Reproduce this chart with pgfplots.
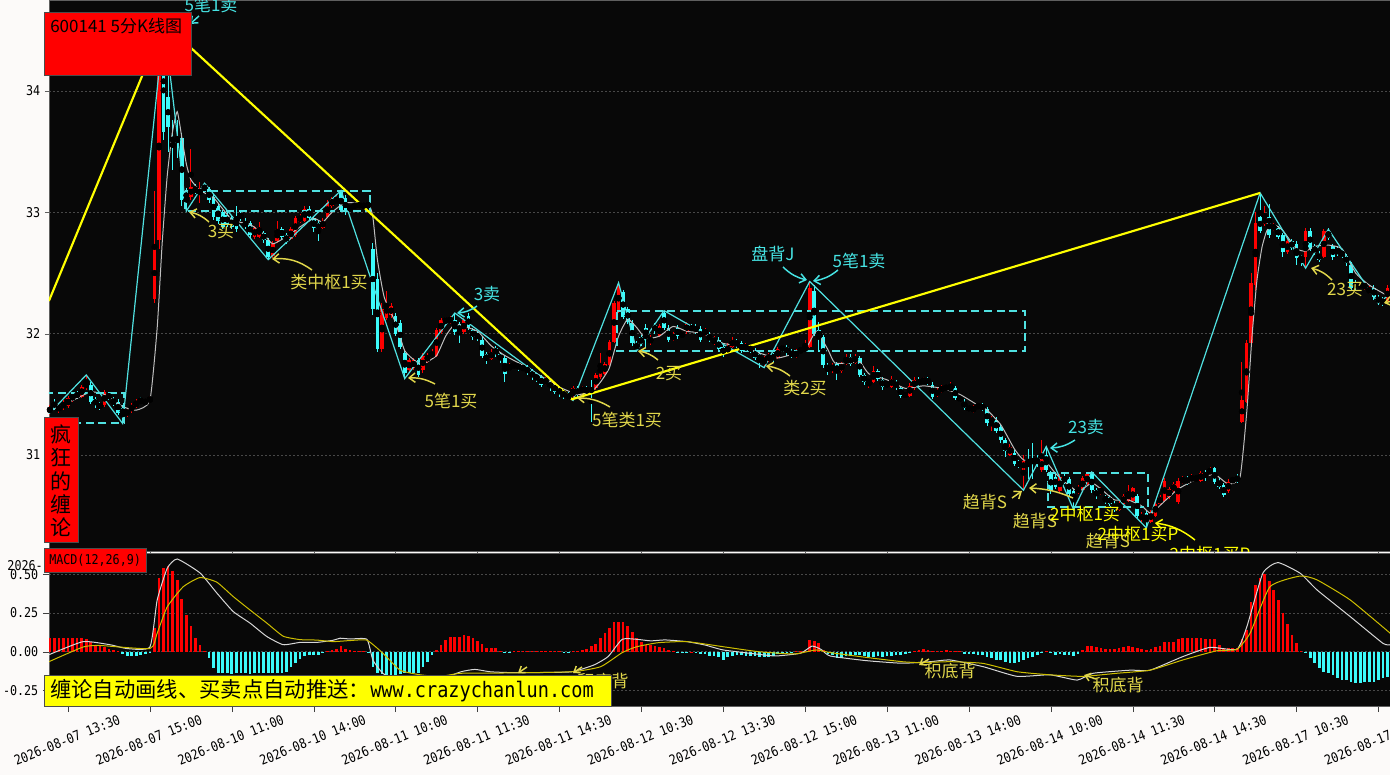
\documentclass[border=0pt]{standalone}
\usepackage{pgfplots}
\pgfplotsset{compat=1.18}
\usepackage{pgfplotstable}
\usepackage{fontspec}
\usetikzlibrary{arrows.meta}
\newfontfamily\cjk{Noto Sans CJK SC}
\newfontfamily\mono[FakeStretch=0.87]{DejaVu Sans Mono}
\definecolor{pagebg}{RGB}{252,250,249}
\definecolor{panelbg}{RGB}{8,8,8}
\definecolor{kred}{RGB}{255,0,0}
\definecolor{kcyan}{RGB}{60,250,250}
\definecolor{zig}{RGB}{80,225,225}
\definecolor{yline}{RGB}{255,255,0}
\definecolor{ylab}{RGB}{225,215,75}
\definecolor{clab}{RGB}{70,228,228}
\definecolor{ma}{RGB}{190,190,190}
\definecolor{dif}{RGB}{215,215,215}
\definecolor{dea}{RGB}{205,190,0}
\definecolor{gridc}{RGB}{72,72,72}
\definecolor{framec}{RGB}{95,95,95}
\newcommand\labfont{\cjk\fontsize{12.75}{14}\selectfont}
\newcommand\tickfont{\mono\fontsize{10.1}{12}\selectfont}
\pgfplotstableread{
x o h l c m
0 31.36 31.41 31.33 31.39 0.09
1 31.44 31.46 31.37 31.39 0.09
2 31.37 31.42 31.35 31.40 0.088
3 31.39 31.45 31.37 31.43 0.09
4 31.40 31.49 31.39 31.47 0.09
5 31.46 31.51 31.44 31.49 0.088
6 31.51 31.53 31.46 31.48 0.09
7 31.48 31.58 31.47 31.56 0.09
8 31.55 31.66 31.54 31.60 0.085
9 31.58 31.60 31.42 31.44 0.065
10 31.46 31.48 31.39 31.41 0.045
11 31.42 31.44 31.37 31.39 0.035
12 31.41 31.54 31.40 31.52 0.03
13 31.50 31.52 31.45 31.47 0.02
14 31.46 31.48 31.40 31.42 0.01
15 31.44 31.46 31.33 31.35 0.003
16 31.39 31.41 31.26 31.33 -0.015
17 31.33 31.39 31.31 31.37 -0.025
18 31.36 31.43 31.35 31.41 -0.03
19 31.40 31.46 31.39 31.44 -0.025
20 31.46 31.48 31.42 31.43 -0.02
21 31.45 31.46 31.41 31.43 -0.015
22 31.44 31.49 31.43 31.47 -0.01
23 32.29 33.18 32.25 32.71 0.155
24 32.77 34.40 32.70 34.30 0.48
25 34.35 34.56 33.60 33.66 0.545
26 33.95 34.15 33.50 33.70 0.555
27 33.62 33.76 33.35 33.58 0.52
28 33.62 33.76 33.45 33.57 0.465
29 33.61 33.65 33.05 33.10 0.34
30 33.18 33.20 33.01 33.10 0.24
31 33.13 33.52 33.10 33.21 0.165
32 33.20 33.23 33.15 33.17 0.09
33 33.14 33.25 33.08 33.20 0.045
34 33.22 33.24 33.16 33.19 0.005
35 33.19 33.21 33.08 33.10 -0.04
36 33.13 33.15 32.94 32.96 -0.105
37 33.05 33.07 32.90 32.93 -0.135
38 33.00 33.02 32.86 32.88 -0.14
39 32.98 33.00 32.88 32.90 -0.14
40 32.95 32.97 32.86 32.88 -0.142
41 32.96 33.05 32.84 32.86 -0.14
42 32.99 33.01 32.93 32.95 -0.138
43 32.93 32.95 32.86 32.88 -0.14
44 32.91 32.93 32.79 32.81 -0.142
45 32.80 32.89 32.78 32.87 -0.14
46 32.80 32.92 32.79 32.88 -0.14
47 32.83 32.85 32.75 32.77 -0.138
48 32.77 32.79 32.61 32.63 -0.14
49 32.64 32.76 32.62 32.74 -0.14
50 32.76 32.93 32.75 32.86 -0.138
51 32.86 32.88 32.78 32.80 -0.135
52 32.81 32.83 32.74 32.76 -0.13
53 32.78 32.88 32.77 32.86 -0.1
54 32.81 32.97 32.80 32.95 -0.075
55 32.92 32.99 32.91 32.97 -0.045
56 32.93 33.05 32.92 33.03 -0.025
57 33.03 33.05 32.93 32.95 -0.02
58 32.95 32.97 32.84 32.87 -0.02
59 32.91 32.93 32.76 32.86 -0.02
60 32.87 32.95 32.86 32.93 -0.01
61 32.96 33.10 32.95 33.08 0.005
62 33.05 33.13 33.04 33.11 0.012
63 33.08 33.14 33.07 33.11 0.02
64 33.17 33.18 33.00 33.02 0.035
65 33.12 33.14 32.98 33.00 0.02
66 33.02 33.06 33.01 33.04 0.012
67 33.04 33.08 33.03 33.07 0.006
68 33.07 33.08 33.04 33.05 0.004
69 33.05 33.07 33.04 33.06 0.002
70 33.07 33.08 33.04 33.05 -0.01
71 32.70 32.75 32.15 32.20 -0.1
72 32.45 32.50 31.85 31.87 -0.14
73 31.87 32.25 31.85 32.20 -0.145
74 32.13 32.35 32.11 32.25 -0.15
75 32.15 32.25 32.13 32.23 -0.15
76 32.15 32.17 31.98 32.00 -0.15
77 32.09 32.11 31.87 31.89 -0.145
78 31.84 31.86 31.63 31.68 -0.14
79 31.70 31.80 31.68 31.78 -0.14
80 31.72 31.80 31.70 31.78 -0.14
81 31.78 31.80 31.64 31.66 -0.14
82 31.70 31.84 31.68 31.82 -0.1
83 31.77 31.84 31.76 31.82 -0.065
84 31.80 31.87 31.79 31.85 -0.02
85 31.82 32.05 31.81 32.03 0.01
86 32.01 32.13 32.00 32.11 0.043
87 32.09 32.14 32.08 32.12 0.076
88 32.09 32.15 32.08 32.13 0.093
89 32.11 32.17 31.99 32.01 0.093
90 32.08 32.10 31.92 32.01 0.093
91 32.01 32.13 32.00 32.11 0.108
92 32.15 32.17 32.03 32.05 0.1
93 32.03 32.05 31.95 31.97 0.087
94 32.00 32.02 31.94 31.96 0.072
95 31.95 31.97 31.80 31.82 0.048
96 31.83 31.85 31.75 31.78 0.026
97 31.79 31.87 31.78 31.85 0.026
98 31.88 31.90 31.81 31.83 0.026
99 31.83 31.85 31.76 31.78 0.004
100 31.80 31.82 31.60 31.67 -0.005
101 31.70 31.76 31.69 31.74 -0.002
102 31.72 31.77 31.71 31.75 0.003
103 31.75 31.77 31.69 31.71 0.005
104 31.70 31.75 31.69 31.73 0.005
105 31.72 31.74 31.66 31.68 0.006
106 31.69 31.71 31.62 31.64 0.005
107 31.66 31.68 31.60 31.62 0.005
108 31.64 31.66 31.56 31.58 0.006
109 31.59 31.64 31.58 31.62 0.005
110 31.60 31.62 31.53 31.55 0.005
111 31.58 31.60 31.50 31.52 0.003
112 31.55 31.57 31.48 31.50 0.002
113 31.52 31.54 31.46 31.48 -0.003
114 31.50 31.52 31.45 31.46 -0.004
115 31.50 31.57 31.45 31.55 0.003
116 31.55 31.57 31.48 31.50 0.006
117 31.52 31.57 31.51 31.55 0.011
118 31.55 31.57 31.50 31.51 0.02
119 31.55 31.62 31.27 31.52 0.035
120 31.55 31.68 31.54 31.66 0.05
121 31.64 31.84 31.63 31.75 0.087
122 31.67 31.77 31.66 31.75 0.12
123 31.74 31.95 31.73 31.93 0.152
124 31.93 32.27 31.92 32.25 0.19
125 32.18 32.42 32.17 32.40 0.195
126 32.34 32.36 32.12 32.14 0.19
127 32.20 32.22 32.08 32.10 0.165
128 32.09 32.11 31.90 31.92 0.13
129 31.92 31.94 31.86 31.87 0.087
130 31.97 31.99 31.90 31.92 0.065
131 32.05 32.08 31.88 31.97 0.043
132 31.92 31.99 31.91 31.97 0.043
133 32.07 32.09 32.00 32.02 0.035
134 31.98 32.08 31.97 32.06 0.03
135 32.17 32.19 32.03 32.05 0.025
136 32.05 32.07 31.93 31.95 0.011
137 31.95 32.01 31.94 31.99 0.005
138 32.05 32.07 31.96 31.98 -0.004
139 31.98 32.02 31.97 32.00 -0.005
140 32.02 32.10 32.00 32.08 -0.002
141 32.06 32.08 32.01 32.03 0.001
142 32.06 32.08 32.00 32.02 -0.005
143 32.04 32.06 31.93 31.95 -0.015
144 31.99 32.05 31.98 32.03 -0.015
145 31.99 32.01 31.93 31.95 -0.028
146 31.92 31.98 31.91 31.96 -0.03
147 31.95 31.97 31.85 31.87 -0.035
148 31.89 31.91 31.81 31.83 -0.054
149 31.84 31.92 31.83 31.90 -0.037
150 31.89 31.97 31.88 31.95 -0.028
151 31.94 31.96 31.88 31.90 -0.022
152 31.92 31.94 31.84 31.86 -0.022
153 31.87 31.92 31.86 31.90 -0.028
154 31.89 31.91 31.84 31.86 -0.028
155 31.86 31.88 31.78 31.80 -0.03
156 31.83 31.85 31.72 31.78 -0.035
157 31.76 31.82 31.72 31.80 -0.037
158 31.78 31.84 31.77 31.82 -0.037
159 31.82 31.84 31.77 31.79 -0.028
160 31.80 31.89 31.79 31.87 -0.015
161 31.86 31.91 31.85 31.89 -0.01
162 31.89 31.91 31.82 31.84 -0.008
163 31.85 31.87 31.80 31.82 -0.004
164 31.81 31.87 31.80 31.85 0.002
165 31.85 31.89 31.84 31.87 0.003
166 31.86 31.95 31.85 31.89 0.005
167 31.89 32.43 31.88 32.38 0.076
168 32.35 32.40 31.98 32.00 0.07
169 32.03 32.10 31.85 31.97 0.054
170 31.97 31.99 31.72 31.74 0.011
171 31.74 31.76 31.66 31.70 -0.015
172 31.69 31.76 31.68 31.74 -0.022
173 31.75 31.77 31.62 31.68 -0.043
174 31.69 31.77 31.68 31.75 -0.043
175 31.75 31.83 31.74 31.80 -0.028
176 31.81 31.83 31.73 31.75 -0.028
177 31.76 31.83 31.75 31.81 -0.022
178 31.80 31.82 31.64 31.66 -0.022
179 31.66 31.68 31.58 31.60 -0.028
180 31.60 31.63 31.55 31.61 -0.037
181 31.60 31.73 31.59 31.69 -0.033
182 31.69 31.71 31.61 31.63 -0.028
183 31.62 31.64 31.54 31.56 -0.033
184 31.57 31.61 31.56 31.59 -0.028
185 31.56 31.65 31.55 31.63 -0.028
186 31.60 31.62 31.54 31.56 -0.022
187 31.55 31.57 31.47 31.49 -0.022
188 31.50 31.52 31.47 31.49 -0.015
189 31.49 31.59 31.48 31.57 -0.005
190 31.55 31.64 31.54 31.62 0.005
191 31.62 31.64 31.56 31.58 0.008
192 31.60 31.64 31.59 31.62 0.015
193 31.62 31.64 31.58 31.60 0.008
194 31.58 31.60 31.46 31.48 0.006
195 31.49 31.55 31.48 31.53 0.005
196 31.52 31.58 31.51 31.56 0.006
197 31.56 31.58 31.53 31.55 0.008
198 31.54 31.60 31.53 31.56 0.007
199 31.55 31.57 31.45 31.47 0.005
200 31.47 31.49 31.44 31.46 0.003
201 31.44 31.46 31.37 31.39 -0.015
202 31.39 31.41 31.36 31.38 -0.015
203 31.36 31.41 31.35 31.39 -0.015
204 31.39 31.43 31.38 31.41 -0.022
205 31.41 31.43 31.36 31.38 -0.022
206 31.38 31.40 31.24 31.26 -0.032
207 31.27 31.32 31.20 31.30 -0.043
208 31.29 31.31 31.18 31.20 -0.054
209 31.23 31.25 31.10 31.12 -0.054
210 31.12 31.14 30.98 31.03 -0.065
211 31.00 31.09 30.99 31.07 -0.071
212 31.02 31.04 30.91 30.93 -0.076
213 30.94 30.96 30.89 30.91 -0.065
214 30.88 31.00 30.71 30.95 -0.054
215 30.96 31.05 30.80 30.93 -0.043
216 30.96 31.10 30.80 30.94 -0.032
217 30.97 31.00 30.90 30.94 -0.022
218 30.88 31.12 30.86 30.97 -0.003
219 31.00 31.07 30.86 30.88 0.002
220 30.85 30.87 30.68 30.70 -0.003
221 30.82 30.84 30.72 30.74 -0.022
222 30.70 30.84 30.69 30.82 -0.015
223 30.82 30.84 30.76 30.78 -0.022
224 30.80 30.82 30.66 30.68 -0.022
225 30.70 30.72 30.55 30.62 -0.028
226 30.69 30.75 30.68 30.73 -0.015
227 30.71 30.83 30.70 30.81 0.011
228 30.76 30.86 30.75 30.84 0.037
229 30.85 30.86 30.69 30.71 0.037
230 30.71 30.73 30.64 30.66 0.028
231 30.68 30.74 30.67 30.72 0.022
232 30.65 30.67 30.60 30.62 0.015
233 30.65 30.67 30.58 30.60 0.015
234 30.60 30.62 30.53 30.55 0.015
235 30.55 30.62 30.54 30.60 0.022
236 30.60 30.68 30.59 30.66 0.028
237 30.62 30.75 30.61 30.70 0.037
238 30.62 30.74 30.61 30.73 0.028
239 30.66 30.68 30.48 30.50 0.022
240 30.47 30.53 30.45 30.51 0.015
241 30.52 30.54 30.40 30.45 0.011
242 30.45 30.55 30.44 30.53 0.015
243 30.50 30.62 30.49 30.60 0.028
244 30.60 30.67 30.59 30.65 0.037
245 30.62 30.81 30.61 30.79 0.065
246 30.65 30.74 30.64 30.72 0.065
247 30.70 30.78 30.69 30.76 0.065
248 30.61 30.81 30.60 30.79 0.08
249 30.77 30.83 30.76 30.81 0.087
250 30.81 30.83 30.75 30.77 0.087
251 30.79 30.84 30.78 30.82 0.087
252 30.80 30.83 30.79 30.81 0.087
253 30.79 30.87 30.78 30.85 0.087
254 30.86 30.88 30.79 30.81 0.08
255 30.85 30.90 30.84 30.88 0.08
256 30.89 30.90 30.76 30.78 0.08
257 30.79 30.81 30.72 30.74 0.043
258 30.75 30.77 30.65 30.67 0.022
259 30.70 30.80 30.69 30.78 0.022
260 30.78 30.82 30.77 30.80 0.022
261 30.82 30.84 30.77 30.79 0.022
262 31.27 31.77 31.26 31.45 0.08
263 31.44 31.95 31.43 31.92 0.14
264 31.92 32.50 31.90 32.42 0.32
265 32.40 33.00 32.35 32.91 0.43
266 32.96 33.16 32.83 32.85 0.476
267 32.90 33.05 32.89 32.96 0.5
268 32.96 33.07 32.79 32.81 0.455
269 32.86 32.91 32.85 32.89 0.4
270 32.87 32.89 32.78 32.80 0.335
271 32.81 32.83 32.63 32.67 0.248
272 32.67 32.78 32.66 32.76 0.177
273 32.76 32.78 32.69 32.71 0.106
274 32.74 32.76 32.57 32.62 0.058
275 32.63 32.65 32.56 32.61 0.006
276 32.63 32.87 32.54 32.85 -0.01
277 32.85 32.87 32.68 32.70 -0.043
278 32.72 32.74 32.65 32.67 -0.076
279 32.66 32.68 32.59 32.61 -0.108
280 32.63 32.86 32.62 32.85 -0.13
281 32.84 32.87 32.77 32.79 -0.14
282 32.72 32.74 32.61 32.63 -0.152
283 32.70 32.72 32.64 32.66 -0.173
284 32.68 32.70 32.62 32.64 -0.184
285 32.64 32.66 32.56 32.58 -0.184
286 32.57 32.59 32.36 32.38 -0.195
287 32.42 32.44 32.36 32.38 -0.206
288 32.38 32.43 32.37 32.41 -0.206
289 32.37 32.43 32.36 32.41 -0.195
290 32.34 32.39 32.33 32.37 -0.195
291 32.38 32.40 32.28 32.30 -0.195
292 32.30 32.32 32.24 32.26 -0.184
293 32.28 32.30 32.23 32.25 -0.173
294 32.27 32.40 32.26 32.38 -0.165
}\kdata
\begin{document}
\begin{tikzpicture}
\useasboundingbox (0pt,0pt) rectangle (1042.5pt,-581.25pt);
\fill[pagebg] (0pt,0pt) rectangle (1042.5pt,-581.25pt);
% ---------------- main K-line panel ----------------
\begin{axis}[at={(36.75pt,-413.25pt)}, anchor=south west, scale only axis,
  width=1005.75pt, height=413.25pt,
  xmin=-0.18, xmax=294.55, ymin=30.209, ymax=34.75,
  axis background/.style={fill=panelbg},
  axis line style={framec, line width=0.6pt},
  xtick={4,22,...,292}, xticklabels={}, xtick pos=left,
  ytick={31,32,33,34}, yticklabels={31,32,33,34}, ytick pos=left,
  tick align=outside, tick style={framec}, major tick length=3pt,
  yticklabel style={font=\tickfont, text=black},
  ymajorgrids, grid style={gridc, dash pattern=on 1.5pt off 1.5pt, line width=0.6pt}]
% wicks
\addplot[only marks, mark=none, error bars/.cd, y dir=both, y explicit, error mark=none,
  error bar style={kred, line width=0.75pt, solid}]
  table[x=x, y expr={(\thisrow{h}+\thisrow{l})/2},
  y error expr={\thisrow{c}>=\thisrow{o} ? (\thisrow{h}-\thisrow{l})/2 : 0}] {\kdata};
\addplot[only marks, mark=none, error bars/.cd, y dir=both, y explicit, error mark=none,
  error bar style={kcyan, line width=0.75pt, solid}]
  table[x=x, y expr={(\thisrow{h}+\thisrow{l})/2},
  y error expr={\thisrow{c}<\thisrow{o} ? (\thisrow{h}-\thisrow{l})/2 : 0}] {\kdata};
% bodies
\addplot[only marks, mark=none, error bars/.cd, y dir=both, y explicit, error mark=none,
  error bar style={kred, line width=2.8pt, solid}]
  table[x=x, y expr={(\thisrow{o}+\thisrow{c})/2},
  y error expr={\thisrow{c}>=\thisrow{o} ? max((\thisrow{c}-\thisrow{o})/2,0.005) : 0}] {\kdata};
\addplot[only marks, mark=none, error bars/.cd, y dir=both, y explicit, error mark=none,
  error bar style={kcyan, line width=2.8pt, solid}]
  table[x=x, y expr={(\thisrow{o}+\thisrow{c})/2},
  y error expr={\thisrow{c}<\thisrow{o} ? max((\thisrow{o}-\thisrow{c})/2,0.005) : 0}] {\kdata};
% moving average
\addplot[ma, line width=0.75pt, smooth, tension=0.3] coordinates {
(-0.2,31.36)(5,31.45)(9,31.52)(12,31.50)(16,31.40)(19,31.37)(22,31.45)(23.6,32.05)(24.7,32.75)(25.8,33.3)(26.9,33.65)(28,33.83)(29,33.62)(30,33.4)(31,33.27)(33,33.18)(36,33.12)(40,32.94)(44,32.9)(47,32.82)(49,32.74)(52,32.8)(55,32.88)(58,32.95)(60,32.92)(62,33.0)(65,33.08)(70,33.06)(71,32.96)(72,32.61)(73.5,32.3)(76,32.09)(78,31.86)(80.5,31.77)(82,31.75)(85,31.82)(87,31.98)(89,32.08)(91,32.06)(94,32.02)(97,31.9)(100,31.82)(104,31.74)(108,31.65)(112,31.56)(116,31.5)(119,31.52)(121,31.6)(123,31.72)(125,31.98)(127,32.12)(129,32.05)(131,31.96)(134,31.98)(137,32.06)(140,32.02)(144,32.0)(148,31.92)(152,31.9)(156,31.84)(160,31.8)(164,31.84)(166,31.87)(167,31.93)(168.5,32.02)(171,31.87)(172.5,31.76)(176,31.76)(178,31.77)(180,31.67)(184,31.62)(188,31.55)(192,31.57)(196,31.55)(200,31.5)(204,31.41)(206,31.37)(209,31.25)(212,31.05)(214,30.96)(217,30.94)(219,30.94)(221,30.85)(223,30.78)(226,30.7)(229,30.77)(231,30.72)(234,30.63)(237,30.63)(240,30.58)(242,30.52)(245,30.62)(248,30.72)(252,30.8)(256,30.84)(259,30.76)(261.6,30.82)(263.1,31.37)(264.2,31.97)(265.3,32.44)(266.4,32.71)(267.5,32.85)(269,32.9)(271,32.85)(274,32.7)(276,32.68)(278,32.72)(281,32.73)(284,32.7)(287,32.5)(290,32.4)(294.6,32.3)};
% central pivot boxes
\addplot[zig, line width=1.5pt, dash pattern=on 6pt off 3.5pt] coordinates {(-1,31.51)(16.3,31.51)(16.3,31.26)(-1,31.26)};
\addplot[zig, line width=1.5pt, dash pattern=on 6pt off 3.5pt] coordinates {(29.7,33.18)(70.4,33.18)(70.4,33.01)(29.7,33.01)(29.7,33.18)};
\addplot[zig, line width=1.5pt, dash pattern=on 6pt off 3.5pt] coordinates {(124.6,32.19)(214.3,32.19)(214.3,31.86)(124.6,31.86)(124.6,32.19)};
\addplot[zig, line width=1.5pt, dash pattern=on 6pt off 3.5pt] coordinates {(219.4,30.855)(241.4,30.855)(241.4,30.57)(219.4,30.57)(219.4,30.855)};
% strokes
\addplot[zig, line width=0.9pt] coordinates {(-0.2,31.34)(8,31.66)(16,31.26)(25.1,34.56)(30,33.01)(34,33.24)(48,32.61)(64,33.18)(78,31.63)(89,32.17)(115,31.45)(125,32.42)(129,31.86)(135,32.19)(157,31.72)(167,32.43)(214,30.71)(219,31.07)(225,30.55)(229,30.86)(241,30.40)(266,33.16)(276,32.54)(281,32.86)(292,32.25)(294.6,32.33)};
% segments
\addplot[yline, line width=1.6pt] coordinates {(-0.2,32.27)(25.1,34.56)(114.8,31.46)(266,33.16)};
\end{axis}
% ---------------- MACD panel ----------------
\begin{axis}[at={(36.75pt,-529.5pt)}, anchor=south west, scale only axis,
  width=1005.75pt, height=114.75pt,
  xmin=-0.18, xmax=294.55, ymin=-0.352, ymax=0.639,
  axis background/.style={fill=panelbg},
  axis line style={framec, line width=0.6pt},
  xtick={4,22,...,292}, xticklabels={}, xtick pos=left, tick align=outside,
  tick style={black!75}, major tick length=4.5pt,
  ytick={-0.25,0,0.25,0.5}, yticklabels={-0.25,0.00,0.25,0.50}, ytick pos=left,
  yticklabel style={font=\tickfont, text=black},
  ymajorgrids, grid style={gridc, dash pattern=on 1.5pt off 1.5pt, line width=0.6pt}]
\addplot[ycomb, kred, line width=2pt] table[x=x, y expr={max(\thisrow{m},0)}] {\kdata};
\addplot[ycomb, kcyan, line width=2pt] table[x=x, y expr={min(\thisrow{m},0)}] {\kdata};
\addplot[dif, line width=0.75pt, smooth, tension=0.3] coordinates {
(-0.2,-0.02)(7.3,0.065)(13.2,0.045)(17,0.02)(22,0.03)(23.6,0.335)(25.8,0.54)(28,0.6)(33,0.51)(36.7,0.38)(40.3,0.26)(44,0.185)(47.7,0.098)(51.3,0.045)(55,0.06)(58.7,0.06)(62.3,0.074)(63.8,0.087)(66,0.082)(69.7,0.08)(71,-0.054)(73.2,-0.14)(77,-0.2)(81.4,-0.22)(85.8,-0.18)(90.4,-0.13)(93.4,-0.115)(96.7,-0.13)(100.5,-0.135)(108.4,-0.135)(114.8,-0.13)(119.6,-0.086)(122.7,-0.032)(125.8,0.08)(129,0.08)(132.1,0.07)(135.2,0.076)(140,0.065)(144,0.043)(148,0.011)(155.7,-0.017)(159.6,-0.028)(165,-0.01)(167.5,0.036)(169.5,0.015)(171.5,-0.028)(179.4,-0.058)(187.3,-0.075)(193.5,-0.065)(197.9,-0.054)(205.1,-0.097)(212.6,-0.16)(219.8,-0.15)(225.8,-0.184)(229.3,-0.14)(237.4,-0.12)(241.8,-0.12)(249,-0.032)(255,0.028)(260.9,0.015)(263.1,0.163)(266.6,0.508)(269.9,0.577)(274.8,0.508)(278.5,0.4)(285.8,0.227)(293,0.054)(294.6,0.045)};
\addplot[dea, line width=0.75pt, smooth, tension=0.3] coordinates {
(-0.2,-0.065)(7.3,0.03)(11,0.04)(22,0.02)(23.6,0.12)(25.8,0.29)(29.3,0.42)(33,0.48)(36.7,0.45)(40.3,0.357)(44,0.27)(47.7,0.185)(51.3,0.1)(55,0.078)(58.7,0.075)(62.3,0.065)(66,0.072)(69.7,0.074)(73.2,-0.01)(77,-0.12)(81.4,-0.15)(85.8,-0.16)(90.4,-0.14)(100.5,-0.138)(114.8,-0.13)(121.1,-0.097)(125.8,-0.006)(129,0.032)(133.7,0.058)(140,0.065)(148,0.032)(155.7,0)(163.6,-0.015)(168.4,0.011)(171.5,-0.006)(179.4,-0.037)(187.3,-0.065)(191.2,-0.071)(197.9,-0.065)(205.1,-0.076)(212.6,-0.13)(219.8,-0.15)(227.1,-0.16)(234.5,-0.14)(241.8,-0.12)(249,-0.054)(256.5,0.006)(260.9,0.015)(263.8,0.12)(268.2,0.422)(274.8,0.49)(278.5,0.465)(285.8,0.335)(294.6,0.119)};
\end{axis}
% ---------------- annotations (pixel coordinates) ----------------
\begin{scope}[x=0.75pt,y=-0.75pt]
\begin{scope}
\clip (49,0) rectangle (1390,551);
\tikzset{al/.style={ylab, line width=1.1pt, -{Straight Barb[length=4.5pt,width=7pt]}},
         ac/.style={clab, line width=1.1pt, -{Straight Barb[length=4.5pt,width=7pt]}}}
\node[clab, font=\labfont] at (211,5) {5笔1卖};
\draw[ac] (199,16) -- (190,24);
\node[ylab, font=\labfont] at (221,232) {3买};
\draw[al] (209,222) to[bend right=15] (189,212);
\node[ylab, font=\labfont] at (329,282) {类中枢1买};
\draw[al] (312,270) to[bend right=20] (272,259);
\node[clab, font=\labfont] at (487,294) {3卖};
\draw[ac] (477,306) to[bend left=15] (457,313);
\node[ylab, font=\labfont] at (451,401) {5笔1买};
\draw[al] (435,384) to[bend right=15] (408,378);
\node[ylab, font=\labfont] at (627,420) {5笔类1买};
\draw[al] (610,407) to[bend right=15] (577,398);
\node[ylab, font=\labfont] at (669,374) {2买};
\draw[al] (658,360) to[bend right=15] (638,351);
\node[clab, font=\labfont] at (773,254) {盘背J};
\draw[ac] (783,267) to[bend right=15] (807,280);
\node[clab, font=\labfont] at (859,261) {5笔1卖};
\draw[ac] (838,270) to[bend left=15] (813,281);
\node[ylab, font=\labfont] at (805,388) {类2买};
\draw[al] (790,376) to[bend right=15] (766,366);
\node[clab, font=\labfont] at (1086,427) {23卖};
\draw[ac] (1075,440) to[bend left=15] (1050,448);
\node[ylab, font=\labfont] at (985,502) {趋背S};
\draw[al] (1012,498) -- (1022,491);
\draw[al] (1073,498) to[bend right=10] (1029,488);
\node[ylab, font=\labfont] at (1035,521) {趋背S};
\node[yline, font=\labfont] at (1085,514) {2中枢1买};
\node[ylab, font=\labfont] at (1108,541) {趋背S};
\node[yline, font=\labfont] at (1138,534) {2中枢1买P};
\draw[al, yline] (1195,540) to[bend right=15] (1155,523);
\node[yline, font=\labfont] at (1210,554) {2中枢1买P};
\node[ylab, font=\labfont] at (1345,290) {23买};
\draw[al] (1332,280) to[bend right=15] (1311,268);
\draw[al] (1400,299) -- (1384,303);
\end{scope}
\begin{scope}
\clip (49,553) rectangle (1390,706);
\tikzset{al/.style={ylab, line width=1.1pt, -{Straight Barb[length=4pt,width=6pt]}}}
\node[ylab, font=\labfont] at (603,681) {积底背};
\draw[al] (527,667) -- (518,673);
\draw[al] (582,667) -- (573,673);
\node[ylab, font=\labfont] at (950,671) {积底背};
\draw[al] (929,659) -- (919,665);
\node[ylab, font=\labfont] at (1118,685) {积底背};
\draw[al] (1096,679) -- (1084,675);
\end{scope}
% overlay boxes
\filldraw[fill=kred, draw=black!70, line width=0.6pt] (44,12) rectangle (191,75);
\node[anchor=west, font=\labfont, text=black, inner sep=0pt] at (50,26) {600141 5分K线图};
\filldraw[fill=kred, draw=black!70, line width=0.6pt] (44,417) rectangle (78,542);
\node[align=center, font=\cjk\fontsize{15.75}{17.5}\selectfont, text=black] at (61,481) {疯\\狂\\的\\缠\\论};
\filldraw[fill=kred, draw=black!70, line width=0.6pt] (44,548) rectangle (146,572);
\node[anchor=west, font=\tickfont, text=black, inner sep=0pt] at (49,560) {MACD(12,26,9)};
\node[anchor=east, font=\tickfont, text=black, inner sep=0pt] at (43,566) {2026-};
\filldraw[fill=yline, draw=black!70, line width=0.6pt] (44,675) rectangle (611,706);
\node[anchor=west, text=black, inner sep=0pt] at (50,691) {\cjk\fontsize{16}{18}\selectfont 缠论自动画线、买卖点自动推送：\mono\fontsize{16}{18}\selectfont www.crazychanlun.com};
% x tick labels
\foreach \k/\lab in {0/{2026-08-07 13:30},1/{2026-08-07 15:00},2/{2026-08-10 11:00},3/{2026-08-10 14:00},4/{2026-08-11 10:00},5/{2026-08-11 11:30},6/{2026-08-11 14:30},7/{2026-08-12 10:30},8/{2026-08-12 13:30},9/{2026-08-12 15:00},10/{2026-08-13 11:00},11/{2026-08-13 14:00},12/{2026-08-14 10:00},13/{2026-08-14 11:30},14/{2026-08-14 14:30},15/{2026-08-17 10:30},16/{2026-08-17 14:00}}
  {\node[rotate=22, font=\tickfont, text=black, inner sep=0pt] at (67+81.9*\k,740) {\lab};}
\end{scope}
\end{tikzpicture}
\end{document}
